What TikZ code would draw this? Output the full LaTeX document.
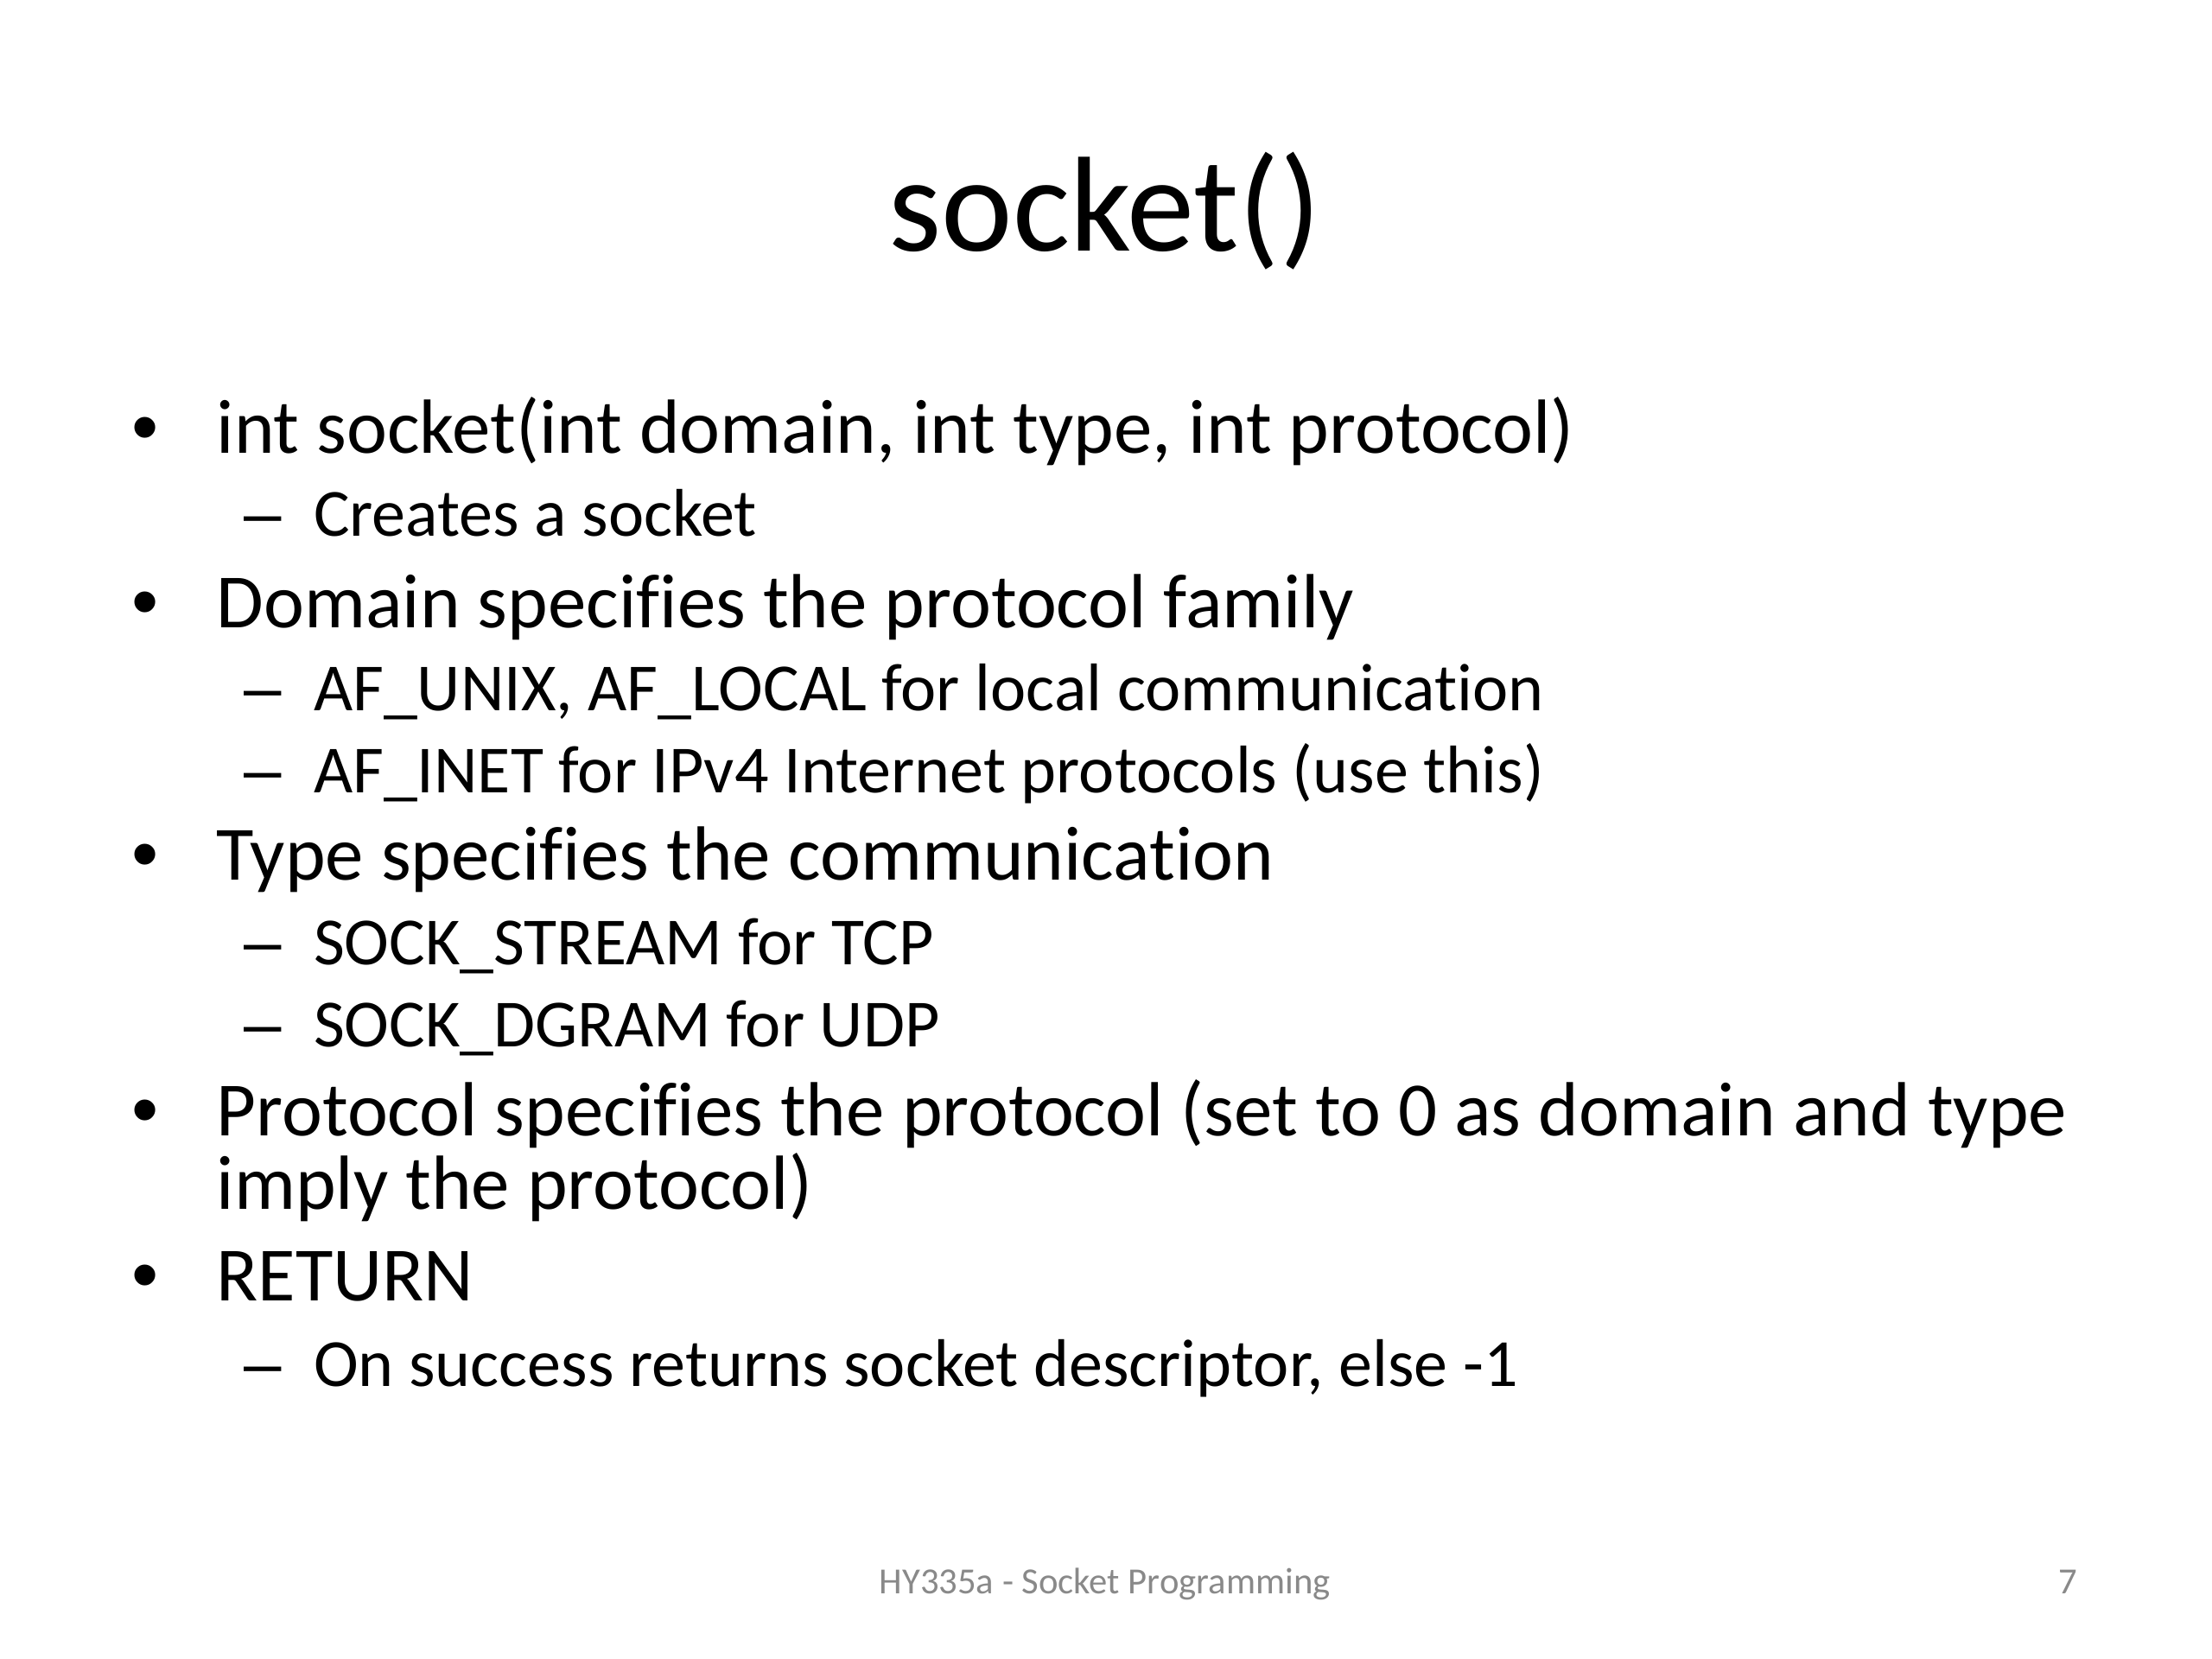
\documentclass[tikz,border=0pt]{standalone}
\usepackage{fontspec}
\setmainfont{Carlito}[Ligatures=NoCommon]
\newfontfamily\bulletfont{Liberation Sans}
\definecolor{footgray}{HTML}{898989}
\tikzset{
  lvlone/.style={anchor=base west, inner sep=0pt, font=\fontsize{25}{30}\selectfont},
  lvltwo/.style={anchor=base west, inner sep=0pt, font=\fontsize{21.95}{26}\selectfont},
  bulletdot/.style={anchor=base, inner sep=0pt, font=\bulletfont\fontsize{25}{30}\selectfont},
  subdash/.style={anchor=base west, inner sep=0pt, font=\bulletfont\fontsize{21.95}{26}\selectfont},
  foot/.style={anchor=base, inner sep=0pt, text=footgray, font=\fontsize{12}{14}\selectfont}
}
\begin{document}
\begin{tikzpicture}[x=1pt, y=1pt]
% Slide frame, 10in x 7.5in
\useasboundingbox[fill=white] (0, 0) rectangle (720, -540);

% Title
\node[anchor=base, inner sep=0pt, font=\fontsize{44}{53}\selectfont] (title) at (359.6, -81.7) {socket()};

% Bullets and sub-items
\node[bulletdot] (d1) at (47.3, -147.4) {•};
\node[lvlone] (b1) at (70.3, -147.4) {int socket(int domain, int type, int protocol)};
\node[subdash] (e1) at (79.3, -174.5) {–};
\node[lvltwo] (s1) at (101.9, -174.5) {Creates a socket};
\node[bulletdot] (d2) at (47.3, -204.3) {•};
\node[lvlone] (b2) at (70.3, -204.3) {Domain specifies the protocol family};
\node[subdash] (e2) at (79.3, -231.4) {–};
\node[lvltwo] (s2) at (101.9, -231.4) {AF\_UNIX, AF\_LOCAL for local communication};
\node[subdash] (e3) at (79.3, -258.1) {–};
\node[lvltwo] (s3) at (101.9, -258.1) {AF\_INET for IPv4 Internet protocols (use this)};
\node[bulletdot] (d3) at (47.3, -286.5) {•};
\node[lvlone] (b3) at (70.3, -286.5) {Type specifies the communication};
\node[subdash] (e4) at (79.3, -314.1) {–};
\node[lvltwo] (s4) at (101.9, -314.1) {SOCK\_STREAM for TCP};
\node[subdash] (e5) at (79.3, -340.7) {–};
\node[lvltwo] (s5) at (101.9, -340.7) {SOCK\_DGRAM for UDP};
\node[bulletdot] (d4) at (47.3, -369.7) {•};
\node[lvlone] (b4) at (70.3, -369.7) {Protocol specifies the protocol (set to 0 as domain and type};
\node[lvlone] (b4w) at (70.3, -393.5) {imply the protocol)};
\node[bulletdot] (d5) at (47.3, -423.4) {•};
\node[lvlone] (b5) at (70.3, -423.4) {RETURN};
\node[subdash] (e6) at (79.3, -451.4) {–};
\node[lvltwo] (s6) at (101.9, -451.4) {On success returns socket descriptor, else -1};

% Footer
\node[foot] (ftext) at (359.6, -518.9) {HY335a - Socket Programming};
\node[foot, anchor=base east] (fnum) at (676.4, -518.9) {7};
\end{tikzpicture}
\end{document}
